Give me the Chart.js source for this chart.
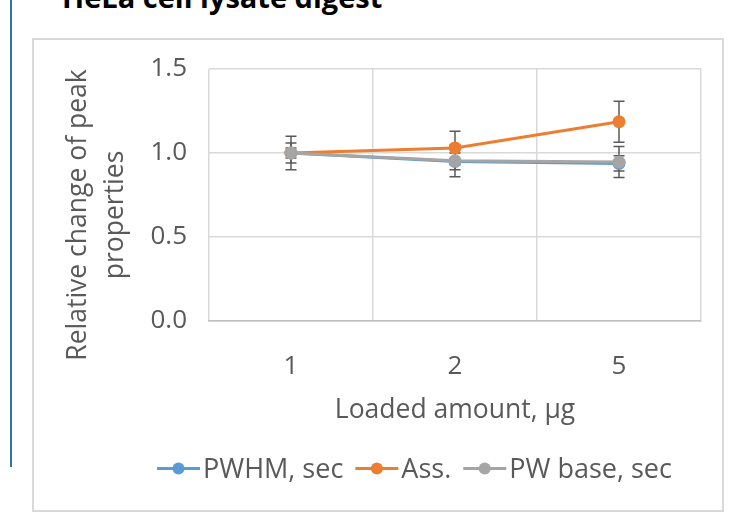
<!DOCTYPE html>
<html>
<head>
<meta charset="utf-8">
<script src="https://cdn.jsdelivr.net/npm/chart.js@4.4.1/dist/chart.umd.min.js"></script>
<style>
  html, body { margin: 0; padding: 0; background: #fff; }
  body { width: 732px; height: 523px; position: relative; overflow: hidden; font-family: "Open Sans", sans-serif; }
  #heading { position: absolute; left: 62px; top: -17px; font-size: 29px; line-height: 28px; font-weight: bold; color: #000; white-space: nowrap; }
  #sideRule { position: absolute; left: 10px; top: 0; width: 2px; height: 467px; background: #2E74B5; }
  #frame { position: absolute; left: 32px; top: 38px; width: 692px; height: 474px; border: 2px solid #D9D9D9; box-sizing: border-box; }
  #chart { position: absolute; left: 0; top: 0; }
</style>
</head>
<body>
<div id="heading">HeLa cell lysate digest</div>
<div id="sideRule"></div>
<div id="frame"></div>
<canvas id="chart" width="732" height="523"></canvas>
<script>
// values
const loadedAmounts = ["1", "2", "5"];
const pwhm = [1.0, 0.95, 0.938];
const asym = [1.0, 1.03, 1.186];
const pwBase = [1.0, 0.954, 0.946];
const pwhmErr = [0.03, 0.05, 0.045];
const asymErr = [0.1, 0.1, 0.122];
const pwBaseErr = [0.06, 0.095, 0.092];
const yTicks = [0, 0.5, 1.0, 1.5];

const textColor = "#595959";
const fontFamily = '"Open Sans", sans-serif';

// error bars drawn under the markers, like Excel does
const errorBars = {
	id: "errorBars",
	beforeDatasetsDraw(chart) {
		const ctx = chart.ctx;
		const yScale = chart.scales.y;
		ctx.save();
		ctx.strokeStyle = "#595959";
		ctx.lineWidth = 1.5;
		chart.data.datasets.forEach((ds, i) => {
			const meta = chart.getDatasetMeta(i);
			meta.data.forEach((pt, j) => {
				const v = ds.data[j];
				const e = ds.errors[j];
				const top = yScale.getPixelForValue(v + e);
				const bot = yScale.getPixelForValue(v - e);
				ctx.beginPath();
				ctx.moveTo(pt.x, top);
				ctx.lineTo(pt.x, bot);
				ctx.moveTo(pt.x - 5.5, top);
				ctx.lineTo(pt.x + 5.5, top);
				ctx.moveTo(pt.x - 5.5, bot);
				ctx.lineTo(pt.x + 5.5, bot);
				ctx.stroke();
			});
		});
		ctx.restore();
	},
};

// rotated two-line axis title + legend with line/marker keys
const excelBits = {
	id: "excelBits",
	afterDraw(chart) {
		const ctx = chart.ctx;
		ctx.save();
		ctx.fillStyle = textColor;
		ctx.font = "26.5px " + fontFamily;
		ctx.textAlign = "center";
		ctx.textBaseline = "alphabetic";
		ctx.translate(0, 215);
		ctx.rotate(-Math.PI / 2);
		ctx.fillText("Relative change of peak", 0, 86);
		ctx.fillText("properties", 0, 123);
		ctx.restore();

		ctx.save();
		ctx.font = "27px " + fontFamily;
		ctx.textBaseline = "alphabetic";
		ctx.textAlign = "left";
		let x = 157;
		const y = 468.5;
		chart.data.datasets.forEach((ds) => {
			ctx.strokeStyle = ds.borderColor;
			ctx.lineWidth = 3;
			ctx.beginPath();
			ctx.moveTo(x, y);
			ctx.lineTo(x + 43, y);
			ctx.stroke();
			ctx.fillStyle = ds.borderColor;
			ctx.beginPath();
			ctx.arc(x + 21.5, y, 6, 0, Math.PI * 2);
			ctx.fill();
			ctx.fillStyle = textColor;
			ctx.fillText(ds.label, x + 46, 478);
			x += 46 + ctx.measureText(ds.label).width + 12;
		});
		ctx.restore();
	},
};

const makeSeries = (label, data, errors, color, order) => ({
	label: label,
	data: data,
	errors: errors,
	borderColor: color,
	backgroundColor: color,
	borderWidth: 3,
	pointRadius: 6.5,
	pointBorderWidth: 0,
	pointBackgroundColor: color,
	tension: 0,
	order: order,
});

new Chart(document.getElementById("chart").getContext("2d"), {
	type: "line",
	data: {
		labels: loadedAmounts,
		datasets: [
			makeSeries("PWHM, sec", pwhm, pwhmErr, "#5B9BD5", 2),
			makeSeries("Ass.", asym, asymErr, "#ED7D31", 1),
			makeSeries("PW base, sec", pwBase, pwBaseErr, "#A5A5A5", 0),
		],
	},
	options: {
		responsive: false,
		animation: false,
		devicePixelRatio: 1,
		layout: { padding: { left: 0, right: 31, top: 69, bottom: 92 } },
		plugins: {
			legend: { display: false },
			tooltip: { enabled: false },
		},
		scales: {
			x: {
				offset: true,
				grid: { offset: true, color: "#D9D9D9", lineWidth: 1.5, drawTicks: false },
				border: { color: "#BFBFBF", width: 1.5 },
				ticks: { color: textColor, font: { family: fontFamily, size: 26 }, padding: 30 },
				title: {
					display: true,
					text: "Loaded amount, µg",
					color: textColor,
					font: { family: fontFamily, size: 26.5 },
					padding: { top: 0, bottom: 5 },
				},
				afterFit: (s) => { s.height = 110; },
			},
			y: {
				min: 0,
				max: 1.5,
				afterBuildTicks: (s) => { s.ticks = yTicks.map((v) => ({ value: v })); },
				grid: { color: "#D9D9D9", lineWidth: 1.5, drawTicks: false },
				border: { display: false },
				ticks: {
					color: textColor,
					font: { family: fontFamily, size: 26 },
					padding: 22,
					callback: (v) => Number(v).toFixed(1),
				},
				afterFit: (s) => { s.width = 209; },
			},
		},
	},
	plugins: [errorBars, excelBits],
});
</script>
</body>
</html>
